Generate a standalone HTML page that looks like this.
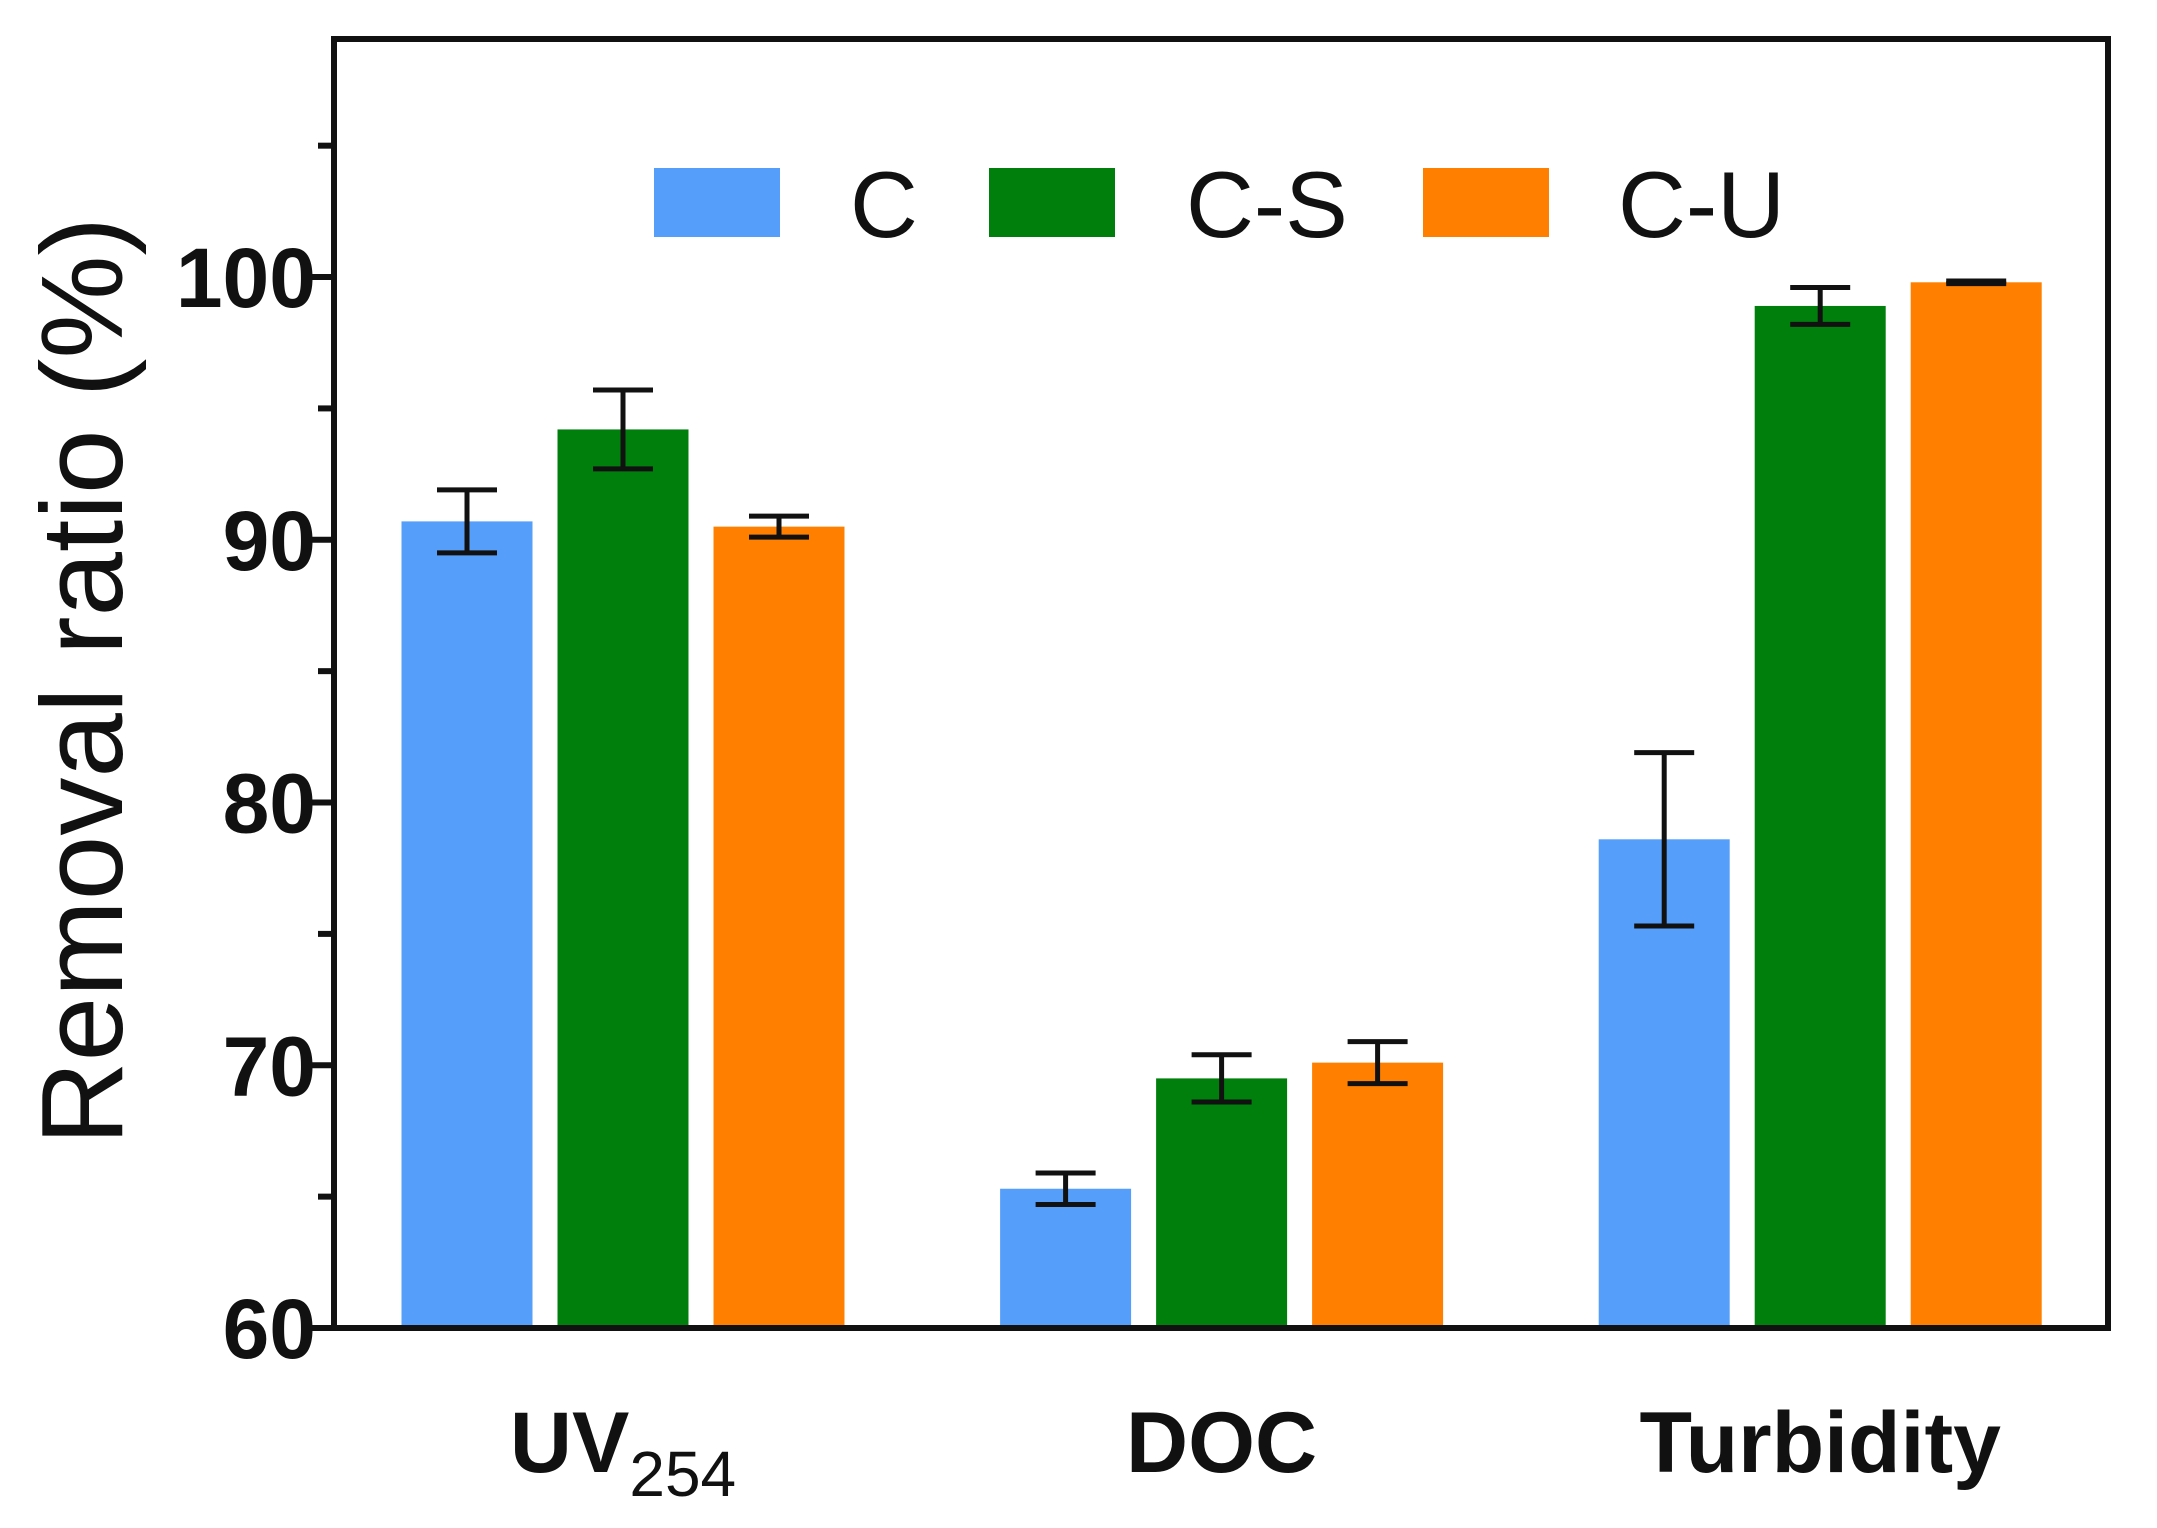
<!DOCTYPE html>
<html><head><meta charset="utf-8"><style>html,body{margin:0;padding:0;background:#fff}svg{display:block}text{font-family:"Liberation Sans",Arial,sans-serif}</style></head>
<body>
<svg id="chart" width="2157" height="1528" viewBox="0 0 2157 1528" xmlns="http://www.w3.org/2000/svg"></svg>
<script>
const categories = ["UV254", "DOC", "Turbidity"];
const seriesNames = ["C", "C-S", "C-U"];
const seriesC = [90.7, 65.3, 78.6];
const seriesCS = [94.2, 69.5, 98.9];
const seriesCU = [90.5, 70.1, 99.8];
const errC = [1.2, 0.6, 3.3];
const errCS = [1.5, 0.9, 0.7];
const errCU = [0.4, 0.8, 0.05];
const yTicks = [60, 70, 80, 90, 100];
const yMinorTicks = [65, 75, 85, 95, 105];

const colors = ["#559ffb", "#007f0d", "#ff8000"];
const svg = document.getElementById('chart');
const NS = "http://www.w3.org/2000/svg";
const L = 334, R = 2108, T = 39, B = 1328;
const yMin = 60, yMax = 109.06;
function y(v){ return B - (v - yMin) / (yMax - yMin) * (B - T); }
const groupX0 = 623, groupStep = 598.6, barStep = 156, barW = 131;
function xc(g, s){ return groupX0 + g * groupStep + (s - 1) * barStep; }
function mk(tag, attrs, parent){ const e = document.createElementNS(NS, tag); for (const k in attrs) e.setAttribute(k, attrs[k]); (parent || svg).appendChild(e); return e; }

const allVals = [seriesC, seriesCS, seriesCU];
const allErr = [errC, errCS, errCU];
for (let s = 0; s < 3; s++) {
  for (let g = 0; g < categories.length; g++) {
    const v = allVals[s][g], e = allErr[s][g], cx = xc(g, s);
    const r = mk('rect', {x: cx - barW/2, y: y(v), width: barW, height: B - y(v), fill: colors[s]});
    
    
    const eg = mk('g', {stroke: '#111', 'stroke-width': 5, fill: 'none'});
    
    
    mk('line', {x1: cx, x2: cx, y1: y(v + e), y2: y(v - e)}, eg);
    mk('line', {x1: cx - 30, x2: cx + 30, y1: y(v + e), y2: y(v + e)}, eg);
    mk('line', {x1: cx - 30, x2: cx + 30, y1: y(v - e), y2: y(v - e)}, eg);
  }
}

const frame = mk('rect', {x: L, y: T, width: R - L, height: B - T, fill: 'none', stroke: '#111', 'stroke-width': 6});



yTicks.forEach(t => {
  const l = mk('line', {x1: L - 22, x2: L, y1: y(t), y2: y(t), stroke: '#111', 'stroke-width': 6});
  
  
  const tx = mk('text', {x: 316, y: y(t) + 30, 'text-anchor': 'end', 'font-size': 84, 'font-weight': 'bold', fill: '#111'});
  tx.textContent = t;
  
  
});
yMinorTicks.forEach(t => {
  const l = mk('line', {x1: L - 16, x2: L, y1: y(t), y2: y(t), stroke: '#111', 'stroke-width': 6});
  
  
});

categories.forEach((c, g) => {
  const tx = mk('text', {x: xc(g, 1), y: 1472, 'text-anchor': 'middle', 'font-size': 86, 'font-weight': 'bold', fill: '#111'});
  if (c === 'UV254') {
    const a = mk('tspan', {}, tx); a.textContent = 'UV';
    const b = mk('tspan', {dy: 24, 'font-size': 64, 'font-weight': 'normal'}, tx); b.textContent = '254';
  } else tx.textContent = c;
  
  
});

const yt = mk('text', {x: 0, y: 0, transform: 'translate(122,681) rotate(-90)', 'text-anchor': 'middle', 'font-size': 116, fill: '#111'});
yt.textContent = 'Removal ratio (%)';



const legBoxX = [654, 989, 1423], legTextX = [850, 1186, 1618];
seriesNames.forEach((n, s) => {
  const g = mk('g', {});
  
  
  mk('rect', {x: legBoxX[s], y: 168, width: 126, height: 69, fill: colors[s]}, g);
  const t = mk('text', {x: legTextX[s], y: 237, 'font-size': 94, fill: '#111'}, g);
  t.textContent = n;
});
</script>
</body></html>
